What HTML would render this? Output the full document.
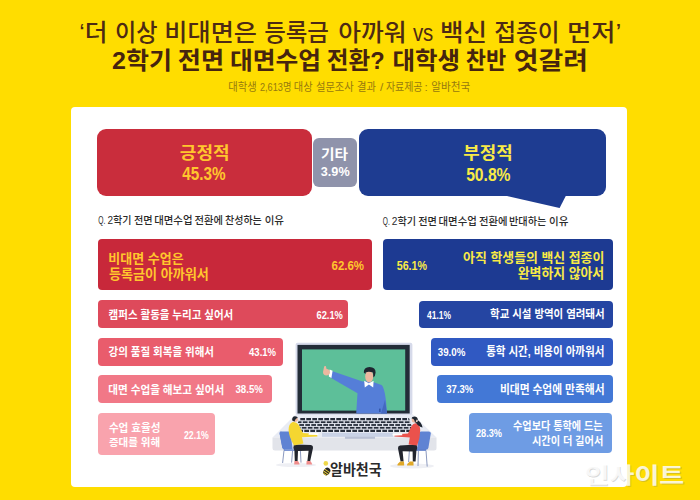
<!DOCTYPE html>
<html lang="ko"><head><meta charset="utf-8"><title>2학기 전면 대면수업 전환? 대학생 찬반 엇갈려</title>
<style>
html,body{margin:0;padding:0}
body{width:700px;height:500px;overflow:hidden;position:relative;background:#ffdd00;font-family:"Liberation Sans",sans-serif}
.card{position:absolute;left:70.5px;top:107.3px;width:556.3px;height:379.9px;background:#fff;border-radius:4px}
.b{position:absolute}
svg{position:absolute;left:0;top:0;width:700px;height:500px;overflow:visible}
svg text{font-family:"Liberation Sans","Noto Sans CJK KR","NanumGothic",sans-serif}
</style></head><body>
<div class="card"></div>
<div class="b pos" style="left:97.3px;top:128.6px;width:214.7px;height:67.8px;background:#c92d3c;border-radius:9px"></div><div class="b etc" style="left:313.3px;top:138.2px;width:43.9px;height:49.3px;background:#8f93ab;border-radius:6px"></div><div class="b neg" style="left:358.8px;top:128.6px;width:247.1px;height:67.4px;background:#1e3c91;border-radius:9px"></div><div class="b l1" style="left:98px;top:238.7px;width:274.2px;height:51.8px;background:#c8283a;border-radius:4px"></div><div class="b l2" style="left:98px;top:300.2px;width:250px;height:27.7px;background:#de4a5b;border-radius:4px"></div><div class="b l3" style="left:98px;top:338px;width:185.4px;height:27.6px;background:#e95c6c;border-radius:4px"></div><div class="b l4" style="left:98px;top:375.3px;width:174.3px;height:27.6px;background:#f17887;border-radius:4px"></div><div class="b l5" style="left:98.2px;top:413.1px;width:116.6px;height:42px;background:#f9a3ad;border-radius:4px"></div><div class="b r1" style="left:382.6px;top:239px;width:230.5px;height:51px;background:#1d3a92;border-radius:4px"></div><div class="b r2" style="left:419.2px;top:300.6px;width:193.5px;height:27.4px;background:#2545a2;border-radius:4px"></div><div class="b r3" style="left:430.7px;top:338px;width:182px;height:27.7px;background:#3059c2;border-radius:4px"></div><div class="b r4" style="left:437.2px;top:375.2px;width:175.5px;height:27.6px;background:#4378d6;border-radius:4px"></div><div class="b r5" style="left:468.8px;top:412.6px;width:143.7px;height:40.6px;background:#6e9ce4;border-radius:4px"></div>
<svg viewBox="0 0 700 500">
<polygon points="505,195.5 559.6,208 566,195.5" fill="#1e3c91"/>
<g id="laptop">
<polygon points="296,414 412.4,414 436.5,437.6 272.5,437.6" fill="#e9ecf4"/>
<path d="M272.5,437.5 H436.5 V448 Q436.5,450.5 434,450.5 H275 Q272.5,450.5 272.5,448 Z" fill="#e2e4ea"/>
<rect x="295.6" y="342.7" width="116.8" height="72" rx="2" fill="#d6daea"/>
<rect x="297.5" y="344.9" width="112.2" height="68.6" fill="#232d38"/>
<rect x="302" y="349.4" width="103.2" height="61.2" fill="#5dbf99"/>
<polygon points="299.5,418 409,418 413.5,432 295,432" fill="#262d3a"/>
<g stroke="#e4e7f0" stroke-width="1">
<line x1="298" y1="420.8" x2="411" y2="420.8"/><line x1="297" y1="423.6" x2="412" y2="423.6"/><line x1="296" y1="426.4" x2="413" y2="426.4"/><line x1="295" y1="429.2" x2="414" y2="429.2"/>
</g>
<g stroke="#e4e7f0" stroke-dasharray="1.3 4.7" stroke-width="2.9">
<line x1="299" y1="419.4" x2="410" y2="419.4"/><line x1="301.5" y1="422.2" x2="411" y2="422.2"/><line x1="298" y1="425" x2="412" y2="425"/><line x1="300.5" y1="427.8" x2="413" y2="427.8"/><line x1="297" y1="430.6" x2="414" y2="430.6"/>
</g>
<rect x="322" y="432.8" width="71" height="4" fill="#c9d2e6"/><rect x="345" y="436.6" width="30" height="2.2" fill="#b9c0d4"/>
</g>
<g id="teacher">
<path d="M330.3,370.4 L362.5,381.5 Q372,380.5 381.5,385 Q385.5,388 387,413.5 L356.2,413.5 L357.5,393.2 L329.8,377.2 Z" fill="#557ed8"/>
<path d="M385,400 L387,413.5 L381,413.5 Z" fill="#4468c0"/>
<polygon points="329.6,369.6 332.6,370.8 331.4,378 328.8,376.6" fill="#fff"/>
<path d="M324.2,366.2 L325.8,366 L326.6,369 Q330,369.4 330,372.6 Q329.6,375.6 326.4,375.6 Q323,375.2 323,372 Z" fill="#ecb8a0"/>
<ellipse cx="369.2" cy="376.6" rx="4" ry="6" fill="#ecb8a0"/>
<path d="M363.8,372.5 Q363.6,367 369.5,366.9 Q375.8,367 375.6,372.5 Q375.4,376 373.4,377.5 L373,372.6 Q369,371.2 365.6,372.4 L365.4,374 Z" fill="#1f2630"/>
<polygon points="364.2,380.8 368.8,383.2 373.6,380.8 373.2,387.4 368.9,384.6 364.8,387.6" fill="#fff"/>
<rect x="379.2" y="408.6" width="1.3" height="3.4" fill="#2d4ea0"/>
</g>
<g id="studentL">
<ellipse cx="296" cy="465" rx="20" ry="2" fill="#eeeff4"/>
<path d="M281.2,431.6 Q279.4,431.6 279.7,434 L282.4,447.6 Q282.8,449.4 285,449.4 L302,449.4 L302,450.8 L284,450.8 Z" fill="#5578c9"/>
<path d="M280.8,431.4 L288.6,431.4 Q290.2,431.4 290.6,433.4 L292.6,449.6 L284.6,449.6 Q282.6,449.6 282.2,447.6 L279.6,433.6 Q279.4,431.4 280.8,431.4 Z" fill="#5f83d3"/>
<g stroke="#7f8fb8" stroke-width=".9" fill="none"><line x1="284" y1="450.5" x2="282.6" y2="463"/><line x1="292.6" y1="450.5" x2="291.6" y2="462.6"/><line x1="300.4" y1="450.5" x2="301" y2="462.6"/></g>
<path d="M294,444.4 L311,445 Q313.4,445.6 313,448 L310.2,461 L307.4,461 L308.6,450.8 L298,451 L297.6,461 L294.8,461 L294.4,450.6 Q292.6,447.6 294,444.4 Z" fill="#22252e"/>
<path d="M294.4,461 L298,461 Q299.8,463.6 299.6,464.6 L294.2,464.6 Z M306.6,461 L310.4,461 Q312.4,463.6 312.2,464.6 L306.4,464.6 Z" fill="#f08d8c"/>
<path d="M292.6,422 Q296.4,421.4 298.6,424.8 L303,433 L317,434 L317.4,436.4 L302,437.2 L303.4,443.6 L294,445.4 Q288.6,436 288.6,430 Q288.4,424 292.6,422 Z" fill="#f5d631"/>
<circle cx="295.2" cy="419.3" r="2.6" fill="#ecb8a0"/>
<path d="M292.2,420.6 Q291.8,416.4 295,416.3 Q297.6,416.4 297.8,418 Q295.4,418 294.6,421.6 Z" fill="#1f2630"/>
<polygon points="309,433 318.6,433.2 318.2,435 308.4,434.8" fill="#fff"/>
</g>
<g id="studentR">
<ellipse cx="412" cy="466" rx="22" ry="2.6" fill="#eeeff4"/>
<path d="M428.6,431.4 L421,431.4 Q419.4,431.4 419,433.4 L417,449.8 L426,449.8 Q428,449.8 428.4,447.8 L430.8,433.6 Q431,431.4 428.6,431.4 Z" fill="#5f83d3"/>
<path d="M407,449.2 L426,449.2 L426,450.8 L407,450.8 Z" fill="#5578c9"/>
<g stroke="#7f8fb8" stroke-width=".9" fill="none"><line x1="418.4" y1="450.5" x2="418" y2="466"/><line x1="426" y1="450.5" x2="427.2" y2="466.6"/><line x1="409.4" y1="450.5" x2="408.6" y2="462"/></g>
<path d="M416.6,444.6 L400,445.6 Q397.6,446.2 398,448.6 L400.6,461.4 L403.6,461.4 L402.6,451.2 L412.6,451.4 L412.8,461.4 L415.6,461.4 L416.4,451 Q418,448 416.6,444.6 Z" fill="#22252e"/>
<path d="M397.4,465.6 Q397.2,463.6 400.2,461.4 L404,461.4 L404.2,465.6 Z M407,465.6 Q406.8,463.6 409.8,461.4 L413.4,461.4 L413.6,465.6 Z" fill="#e0a827"/>
<path d="M416.6,423.4 Q420,424 420.2,430 Q420.2,438 417.2,445.4 L408.6,444.4 L409.8,437.6 L394.4,436.6 L394.6,434.4 L408,433.6 L411.6,426 Q413.4,422.8 416.6,423.4 Z" fill="#eb524c"/>
<circle cx="414.3" cy="419.9" r="2.6" fill="#ecb8a0"/>
<path d="M417.6,421.8 Q418.6,416.6 414.8,416.4 Q411.8,416.5 411.6,418.6 Q414.2,418.4 415,422.4 Z M416.4,419.6 Q421.4,421.8 422.6,427.6 Q419,427.2 415.6,422.6 Z" fill="#1f2630"/>
<polygon points="392.4,433.8 402,433.4 402.4,435.2 392.8,435.8" fill="#fff"/>
</g>
<g id="bee">
<circle cx="325.8" cy="463.4" r="2.3" fill="#efd84a"/>
<clipPath id="beec"><ellipse cx="326.8" cy="471.5" rx="3.2" ry="4"/></clipPath>
<g transform="rotate(35 326.8 471.5)"><g clip-path="url(#beec)"><rect x="322" y="466" width="10" height="11" fill="#26262a"/><rect x="322" y="470.3" width="10" height=".9" fill="#f3d532"/><rect x="322" y="472.5" width="10" height=".9" fill="#f3d532"/><rect x="322" y="474.4" width="10" height="2" fill="#f3d532"/></g></g>
</g>

</svg>
<svg viewBox="0 0 700 500">
<g fill="#4d2a14" font-size="23.8" font-weight="500">
<text x="79.28" y="40.55" textLength="28.2" lengthAdjust="spacingAndGlyphs">‘더</text>
<text x="114.97" y="40.55" textLength="42.5" lengthAdjust="spacingAndGlyphs">이상</text>
<text x="164.37" y="40.55" textLength="92.6" lengthAdjust="spacingAndGlyphs">비대면은</text>
<text x="264.14" y="40.55" textLength="64.7" lengthAdjust="spacingAndGlyphs">등록금</text>
<text x="338.28" y="40.55" textLength="68.3" lengthAdjust="spacingAndGlyphs">아까워</text>
<text x="412.93" y="40.55" textLength="20.4" lengthAdjust="spacingAndGlyphs">vs</text>
<text x="440.14" y="40.55" textLength="47" lengthAdjust="spacingAndGlyphs">백신</text>
<text x="494.16" y="40.55" textLength="65.5" lengthAdjust="spacingAndGlyphs">접종이</text>
<text x="567.07" y="40.55" textLength="54.3" lengthAdjust="spacingAndGlyphs">먼저’</text>
</g>
<g fill="#46240f" font-size="23.7" font-weight="bold">
<text x="112.08" y="69.12" textLength="59.9" lengthAdjust="spacingAndGlyphs">2학기</text>
<text x="177.75" y="69.12" textLength="46.3" lengthAdjust="spacingAndGlyphs">전면</text>
<text x="229.96" y="69.12" textLength="90.9" lengthAdjust="spacingAndGlyphs">대면수업</text>
<text x="326.76" y="69.12" textLength="57.9" lengthAdjust="spacingAndGlyphs">전환?</text>
<text x="392.47" y="69.12" textLength="67.6" lengthAdjust="spacingAndGlyphs">대학생</text>
<text x="465.82" y="69.12" textLength="40.4" lengthAdjust="spacingAndGlyphs">찬반</text>
<text x="513.82" y="69.12" textLength="74.2" lengthAdjust="spacingAndGlyphs">엇갈려</text>
</g>
<g fill="#96790f" font-size="11.75">
<text x="228.22" y="91.23" textLength="28.4" lengthAdjust="spacingAndGlyphs">대학생</text>
<text x="259.96" y="91.23" textLength="31.4" lengthAdjust="spacingAndGlyphs">2,613명</text>
<text x="293.83" y="91.23" textLength="18.8" lengthAdjust="spacingAndGlyphs">대상</text>
<text x="315.96" y="91.23" textLength="37.7" lengthAdjust="spacingAndGlyphs">설문조사</text>
<text x="356.99" y="91.23" textLength="18.9" lengthAdjust="spacingAndGlyphs">결과</text>
<text x="379.9" y="91.23">/</text>
<text x="385.91" y="91.23" textLength="36.6" lengthAdjust="spacingAndGlyphs">자료제공</text>
<text x="424.5" y="91.23">:</text>
<text x="431.29" y="91.23" textLength="39" lengthAdjust="spacingAndGlyphs">알바천국</text>
</g>
<text x="179.89" y="158.65" font-size="16.9" font-weight="bold" fill="#ffc62d" textLength="49.8" lengthAdjust="spacingAndGlyphs">긍정적</text>
<text x="182.17" y="180.18" font-size="18.35" font-weight="bold" fill="#ffc62d" textLength="43.4" lengthAdjust="spacingAndGlyphs">45.3%</text>
<text x="321" y="159.22" font-size="13.4" font-weight="bold" fill="#fff" textLength="27" lengthAdjust="spacingAndGlyphs">기타</text>
<text x="320.84" y="175.86" font-size="13.6" font-weight="bold" fill="#fff" textLength="28.8" lengthAdjust="spacingAndGlyphs">3.9%</text>
<text x="463.38" y="158.65" font-size="16.9" font-weight="bold" fill="#f8ea46" textLength="49.3" lengthAdjust="spacingAndGlyphs">부정적</text>
<text x="466.13" y="180.58" font-size="18.35" font-weight="bold" fill="#f8ea46" textLength="44.4" lengthAdjust="spacingAndGlyphs">50.8%</text>
<g fill="#2b2b2b" font-size="10.7" font-weight="500">
<text x="98.27" y="224.23" textLength="7.1" lengthAdjust="spacingAndGlyphs">Q.</text>
<text x="107.39" y="224.23" textLength="24" lengthAdjust="spacingAndGlyphs">2학기</text>
<text x="133.91" y="224.23" textLength="18.7" lengthAdjust="spacingAndGlyphs">전면</text>
<text x="154.18" y="224.23" textLength="38.3" lengthAdjust="spacingAndGlyphs">대면수업</text>
<text x="194.61" y="224.23" textLength="28.4" lengthAdjust="spacingAndGlyphs">전환에</text>
<text x="225.03" y="224.23" textLength="36.8" lengthAdjust="spacingAndGlyphs">찬성하는</text>
<text x="264.67" y="224.23" textLength="19.3" lengthAdjust="spacingAndGlyphs">이유</text>
</g>
<g fill="#2b2b2b" font-size="10.6" font-weight="500">
<text x="382.77" y="224.54" textLength="7" lengthAdjust="spacingAndGlyphs">Q.</text>
<text x="391.79" y="224.54" textLength="24.3" lengthAdjust="spacingAndGlyphs">2학기</text>
<text x="418.21" y="224.54" textLength="18.7" lengthAdjust="spacingAndGlyphs">전면</text>
<text x="438.59" y="224.54" textLength="38.2" lengthAdjust="spacingAndGlyphs">대면수업</text>
<text x="479" y="224.54" textLength="28.5" lengthAdjust="spacingAndGlyphs">전환에</text>
<text x="508.97" y="224.54" textLength="37.5" lengthAdjust="spacingAndGlyphs">반대하는</text>
<text x="548.97" y="224.54" textLength="19.4" lengthAdjust="spacingAndGlyphs">이유</text>
</g>
<g font-weight="bold" fill="#ffc62d">
<text x="108.37" y="262.93" font-size="13.05" textLength="75.4" lengthAdjust="spacingAndGlyphs">비대면 수업은</text>
<text x="108.93" y="279.2" font-size="13.4" textLength="100" lengthAdjust="spacingAndGlyphs">등록금이 아까워서</text>
<text x="331.52" y="269.98" font-size="13" textLength="32.5" lengthAdjust="spacingAndGlyphs">62.6%</text>
</g>
<g font-weight="bold" fill="#fff">
<text x="108.61" y="318.77" font-size="11.7" textLength="124.6" lengthAdjust="spacingAndGlyphs">캠퍼스 활동을 누리고 싶어서</text>
<text x="316.49" y="318.54" font-size="10.6" textLength="26.4" lengthAdjust="spacingAndGlyphs">62.1%</text>
<text x="108.61" y="356.38" font-size="11.7" textLength="105.4" lengthAdjust="spacingAndGlyphs">강의 품질 회복을 위해서</text>
<text x="249.01" y="356.14" font-size="10.6" textLength="27.1" lengthAdjust="spacingAndGlyphs">43.1%</text>
<text x="108.25" y="393.56" font-size="11.8" textLength="116" lengthAdjust="spacingAndGlyphs">대면 수업을 해보고 싶어서</text>
<text x="235.48" y="393.34" font-size="10.6" textLength="27.4" lengthAdjust="spacingAndGlyphs">38.5%</text>
<text x="108.91" y="432.06" font-size="11" textLength="51.5" lengthAdjust="spacingAndGlyphs">수업 효율성</text>
<text x="108.92" y="446.11" font-size="10.6" textLength="51.3" lengthAdjust="spacingAndGlyphs">증대를 위해</text>
<text x="184.01" y="438.54" font-size="10.6" textLength="24.8" lengthAdjust="spacingAndGlyphs">22.1%</text>
</g>
<g font-weight="bold" fill="#f8ea46">
<text x="396.76" y="269.98" font-size="13" textLength="30.2" lengthAdjust="spacingAndGlyphs">56.1%</text>
<text x="463.12" y="262.24" font-size="13" textLength="141.2" lengthAdjust="spacingAndGlyphs">아직 학생들의 백신 접종이</text>
<text x="517.7" y="277.81" font-size="13.3" textLength="86.5" lengthAdjust="spacingAndGlyphs">완벽하지 않아서</text>
</g>
<g font-weight="bold" fill="#fff">
<text x="427.02" y="318.53" font-size="10.7" textLength="24" lengthAdjust="spacingAndGlyphs">41.1%</text>
<text x="490.12" y="317.98" font-size="11.65" textLength="114.5" lengthAdjust="spacingAndGlyphs">학교 시설 방역이 염려돼서</text>
<text x="437.78" y="356.02" font-size="11.4" textLength="27.6" lengthAdjust="spacingAndGlyphs">39.0%</text>
<text x="486.13" y="356.39" font-size="12.5" textLength="118.3" lengthAdjust="spacingAndGlyphs">통학 시간, 비용이 아까워서</text>
<text x="446.28" y="393.13" font-size="10.7" textLength="27.1" lengthAdjust="spacingAndGlyphs">37.3%</text>
<text x="499.93" y="393.82" font-size="12.2" textLength="104.6" lengthAdjust="spacingAndGlyphs">비대면 수업에 만족해서</text>
<text x="475.91" y="436.92" font-size="11.2" textLength="26.1" lengthAdjust="spacingAndGlyphs">28.3%</text>
<text x="513.02" y="430.41" font-size="11.3" textLength="89.6" lengthAdjust="spacingAndGlyphs">수업보다 통학에 드는</text>
<text x="531.96" y="444.93" font-size="11.1" textLength="71.3" lengthAdjust="spacingAndGlyphs">시간이 더 길어서</text>
</g>
<text x="329.97" y="475.22" font-size="14.4" font-weight="bold" fill="#2a2a2a" textLength="51.7" lengthAdjust="spacingAndGlyphs">알바천국</text>
<text x="585.38" y="483.96" font-size="22" font-weight="bold" fill="#777" opacity=".28" textLength="99.7" lengthAdjust="spacingAndGlyphs">인사이트</text>
<text x="584.58" y="483.16" font-size="22" font-weight="bold" fill="#fff" opacity=".82" textLength="99.7" lengthAdjust="spacingAndGlyphs">인사이트</text>
</svg>
</body></html>
